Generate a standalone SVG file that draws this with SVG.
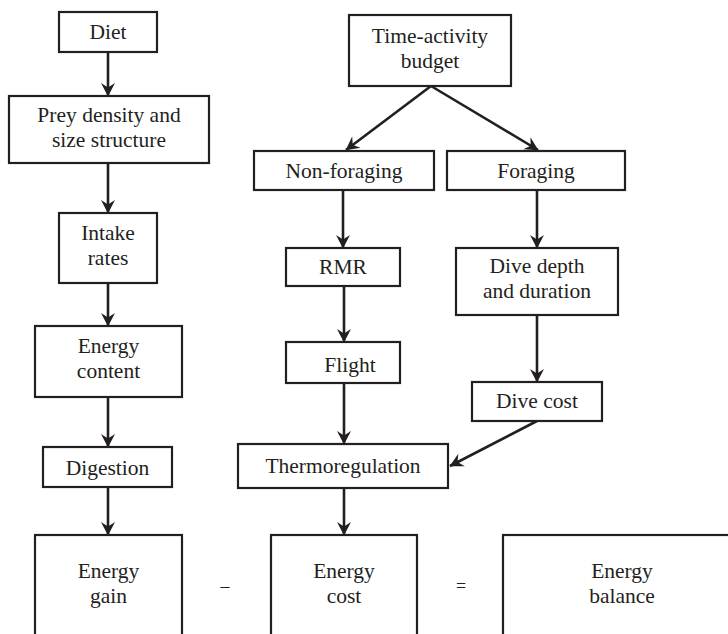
<svg xmlns="http://www.w3.org/2000/svg" width="728" height="634" viewBox="0 0 728 634">
<style>
.box{fill:#fff;stroke:#231f20;stroke-width:2.2}
.t{font-family:"Liberation Serif","Times New Roman",serif;font-size:21.5px;fill:#231f20;text-anchor:middle}
.c line{stroke:#231f20;stroke-width:2.6;fill:none;marker-end:url(#ah)}
</style>
<defs>
<marker id="ah" markerUnits="userSpaceOnUse" markerWidth="18" markerHeight="18" viewBox="-15 -9 16 18" refX="0" refY="0" orient="auto">
<path d="M0.5,0 L-13,-7 L-8.5,0 L-13,7 Z" fill="#231f20"/>
</marker>
</defs>
<rect width="728" height="634" fill="#fff"/>
<g class="c" id="connectors">
<line x1="108" y1="52" x2="108" y2="96"/>
<line x1="108" y1="163" x2="108" y2="213"/>
<line x1="108" y1="283" x2="108" y2="326"/>
<line x1="108" y1="397" x2="108" y2="447"/>
<line x1="108" y1="487" x2="108" y2="535"/>
<line x1="431" y1="86" x2="346" y2="150"/>
<line x1="431" y1="86" x2="538" y2="150"/>
<line x1="343" y1="190" x2="343" y2="248"/>
<line x1="537" y1="190" x2="537" y2="248"/>
<line x1="344" y1="286" x2="344" y2="342"/>
<line x1="537" y1="315" x2="537" y2="382"/>
<line x1="344" y1="383" x2="344" y2="444"/>
<line x1="537" y1="421" x2="450" y2="466"/>
<line x1="344" y1="488" x2="344" y2="535"/>
</g>
<g id="diet"><rect class="box" x="59" y="12" width="98" height="40"/><text class="t" x="108" y="39">Diet</text></g>
<g id="prey"><rect class="box" x="9" y="96" width="200" height="67"/><text class="t" x="109" y="122">Prey density and</text><text class="t" x="109" y="147">size structure</text></g>
<g id="intake"><rect class="box" x="59" y="213" width="98" height="70"/><text class="t" x="108" y="240">Intake</text><text class="t" x="108" y="265">rates</text></g>
<g id="energycontent"><rect class="box" x="35" y="326" width="147" height="71"/><text class="t" x="108.5" y="353">Energy</text><text class="t" x="108.5" y="378">content</text></g>
<g id="digestion"><rect class="box" x="43" y="447" width="129" height="40"/><text class="t" x="107.5" y="475">Digestion</text></g>
<g id="energygain"><rect class="box" x="35" y="535" width="147" height="120"/><text class="t" x="108.5" y="578">Energy</text><text class="t" x="108.5" y="603">gain</text></g>
<g id="timeactivity"><rect class="box" x="349" y="15" width="162" height="71"/><text class="t" x="430" y="43">Time-activity</text><text class="t" x="430" y="68">budget</text></g>
<g id="nonforaging"><rect class="box" x="254" y="151" width="180" height="39"/><text class="t" x="344" y="178">Non-foraging</text></g>
<g id="foraging"><rect class="box" x="447" y="151" width="178" height="39"/><text class="t" x="536" y="178">Foraging</text></g>
<g id="rmr"><rect class="box" x="286" y="248" width="114" height="38"/><text class="t" x="343" y="274">RMR</text></g>
<g id="divedepth"><rect class="box" x="456" y="248" width="162" height="67"/><text class="t" x="537" y="273">Dive depth</text><text class="t" x="537" y="298">and duration</text></g>
<g id="flight"><rect class="box" x="286" y="342" width="114" height="41"/><text class="t" x="350" y="372">Flight</text></g>
<g id="divecost"><rect class="box" x="472" y="382" width="130" height="39"/><text class="t" x="537" y="408">Dive cost</text></g>
<g id="thermo"><rect class="box" x="238" y="444" width="210" height="44"/><text class="t" x="343" y="473">Thermoregulation</text></g>
<g id="energycost"><rect class="box" x="271" y="535" width="146" height="120"/><text class="t" x="344" y="578">Energy</text><text class="t" x="344" y="603">cost</text></g>
<g id="energybalance"><rect class="box" x="503" y="535" width="240" height="120"/><text class="t" x="622" y="578">Energy</text><text class="t" x="622" y="603">balance</text></g>
<text class="t" x="225" y="592" style="font-size:18px">–</text>
<text class="t" x="461" y="592" style="font-size:18px">=</text>
</svg>
